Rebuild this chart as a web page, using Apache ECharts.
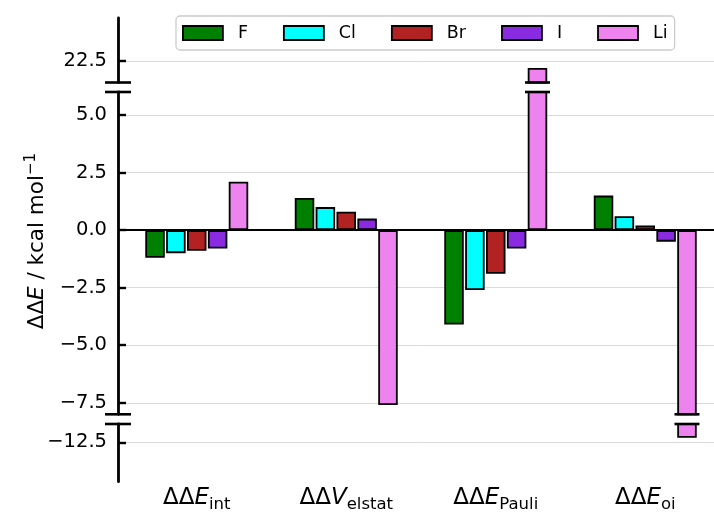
<!DOCTYPE html>
<html><head><meta charset="utf-8">
<script src="https://cdn.jsdelivr.net/npm/echarts@6/dist/echarts.min.js"></script>
<style>html,body{margin:0;padding:0;background:#fff}#c{width:714px;height:512px}</style>
</head><body><div id="c"></div>
<script>
// ---- data ----
const categories = ['ΔΔE_int', 'ΔΔV_elstat', 'ΔΔE_Pauli', 'ΔΔE_oi'];
const seriesNames = ['F', 'Cl', 'Br', 'I', 'Li'];
const valuesF  = [-1.2, 1.4, -4.1, 1.5];
const valuesCl = [-1.0, 1.0, -2.6, 0.6];
const valuesBr = [-0.9, 0.8, -1.9, 0.2];
const valuesI  = [-0.8, 0.5, -0.8, -0.5];
const valuesLi = [2.1, -7.6, 22.2, -12.3];
const ticksTop = [22.5];
const ticksMain = [-7.5, -5, -2.5, 0, 2.5, 5];
const ticksBottom = [-12.5];
const rangeTop = [21.57, 24.37];
const rangeMain = [-8, 6];
const rangeBottom = [-14.21, -11.70];

// ---- style ----
const colors = ['#008000', '#00ffff', '#b22222', '#8a2be2', '#ee82ee'];
const allValues = [valuesF, valuesCl, valuesBr, valuesI, valuesLi];
const BAR_W = 19.5, BAR_GAP = 0.07, AXIS_OFFSET = 4;
const FONT = 'DejaVu Sans';

const fmt = v => (Math.abs(v) < 1e-9 ? 0 : v).toFixed(1).replace('-', '\u2212');

function catLabel(c) {
  const parts = c.split('_');
  const main = parts[0];
  return '{d|' + main.slice(0, 2) + '}{i|' + main.slice(2) + '}{s|' + parts[1] + '}';
}

const gridBase = {left: 122, right: -6, outerBoundsMode: 'none', containLabel: false};
const grids = [
  Object.assign({top: 18, height: 64.5}, gridBase),
  Object.assign({top: 92, height: 322.3}, gridBase),
  Object.assign({top: 424, height: 57.7}, gridBase)
];

function yAxisCfg(idx, range, ticks, extra) {
  return Object.assign({
    type: 'value', gridIndex: idx, min: range[0], max: range[1], offset: AXIS_OFFSET,
    axisLine: {show: true, onZero: false, lineStyle: {color: '#000', width: 2.8}},
    axisTick: {show: true, inside: true, length: 8, customValues: ticks, lineStyle: {color: '#000', width: 2.4}},
    axisLabel: {show: true, customValues: ticks, margin: 11, formatter: fmt, color: '#000', fontFamily: FONT, fontSize: 19.5},
    splitLine: {show: true, lineStyle: {color: '#dadada', width: 1}}
  }, extra || {});
}

const yAxes = [
  yAxisCfg(0, rangeTop, ticksTop),
  yAxisCfg(1, rangeMain, ticksMain, {
    name: '{d|ΔΔ}{i|E}{d| / kcal mol}{sup|\u22121}',
    nameLocation: 'middle', nameRotate: 90, nameGap: 67,
    nameTextStyle: {
      fontFamily: FONT, fontSize: 21.5, color: '#000', padding: [0, 0, 0, 24],
      rich: {
        d: {fontFamily: FONT, fontSize: 21.5, color: '#000', verticalAlign: 'bottom'},
        i: {fontFamily: FONT, fontSize: 21.5, color: '#000', fontStyle: 'italic', verticalAlign: 'bottom'},
        sup: {fontFamily: FONT, fontSize: 15, color: '#000', verticalAlign: 'bottom', padding: [0, 0, 10, 0]}
      }
    }
  }),
  yAxisCfg(2, rangeBottom, ticksBottom)
];

const xAxes = [
  {type: 'category', gridIndex: 0, data: categories, show: false},
  {type: 'category', gridIndex: 1, data: categories,
   axisLine: {show: true, onZero: true, lineStyle: {color: '#000', width: 2.2}},
   axisTick: {show: false}, axisLabel: {show: false}, splitLine: {show: false}},
  {type: 'category', gridIndex: 2, data: categories,
   axisLine: {show: false}, axisTick: {show: false}, splitLine: {show: false},
   axisLabel: {
     show: true, interval: 0, hideOverlap: false, margin: 5, formatter: catLabel, color: '#000', fontFamily: FONT,
     rich: {
       d: {fontFamily: FONT, fontSize: 23, color: '#000', verticalAlign: 'bottom', padding: [0, 0, 4, 0]},
       i: {fontFamily: FONT, fontSize: 23, color: '#000', fontStyle: 'italic', verticalAlign: 'bottom', padding: [0, 0, 4, 0]},
       s: {fontFamily: FONT, fontSize: 16.5, color: '#000', verticalAlign: 'bottom'}
     }
   }}
];

function markLine(x, y, w) {
  return {type: 'line', shape: {x1: x - w / 2, y1: y, x2: x + w / 2, y2: y},
          style: {stroke: '#000', lineWidth: 2.6}};
}

function breakSeries(g, range, edges) {
  return {
    type: 'custom', xAxisIndex: g, yAxisIndex: g, z: 10, silent: true, clip: false,
    data: categories.map((c, i) => [i, (range[0] + range[1]) / 2]),
    renderItem: function (params, api) {
      const cs = params.coordSys;
      const i = params.dataIndex;
      const cx = api.coord([i, (range[0] + range[1]) / 2])[0];
      const children = [];
      edges.forEach(function (e) {
        const y = e[0] === 'top' ? cs.y : cs.y + cs.height;
        if (i === 0) children.push(markLine(cs.x - AXIS_OFFSET, y, 26));
        allValues.forEach(function (vals, k) {
          const v = vals[i];
          if ((e[1] === 'up' && v > rangeMain[1]) || (e[1] === 'down' && v < rangeMain[0])) {
            const bx = cx + (k - (allValues.length - 1) / 2) * BAR_W * (1 + BAR_GAP);
            children.push(markLine(bx, y, 25));
          }
        });
      });
      return {type: 'group', children: children};
    }
  };
}

const series = [];
[0, 1, 2].forEach(function (g) {
  allValues.forEach(function (vals, k) {
    series.push({
      type: 'bar', name: seriesNames[k], xAxisIndex: g, yAxisIndex: g, data: vals,
      barWidth: BAR_W, barGap: (BAR_GAP * 100) + '%', clip: true,
      itemStyle: {color: colors[k], borderColor: '#000', borderWidth: 1.8},
      emphasis: {disabled: true}
    });
  });
});
series.push(breakSeries(0, rangeTop, [['bottom', 'up']]));
series.push(breakSeries(1, rangeMain, [['top', 'up'], ['bottom', 'down']]));
series.push(breakSeries(2, rangeBottom, [['top', 'down']]));

const chart = echarts.init(document.getElementById('c'), null, {renderer: 'canvas', width: 714, height: 512});
chart.setOption({
  animation: false,
  backgroundColor: '#fff',
  grid: grids,
  xAxis: xAxes,
  yAxis: yAxes,
  legend: {
    data: seriesNames, left: 176, top: 16, padding: [8, 7, 8, 6],
    itemWidth: 40, itemHeight: 14, itemGap: 35, icon: 'rect', selectedMode: false,
    backgroundColor: '#fff', borderColor: '#cccccc', borderWidth: 1.3, borderRadius: 4,
    itemStyle: {borderColor: '#000', borderWidth: 1.8},
    textStyle: {fontFamily: FONT, fontSize: 17.5, color: '#000', padding: [0, 0, 0, 10]}
  },
  series: series
});
</script>
</body></html>
